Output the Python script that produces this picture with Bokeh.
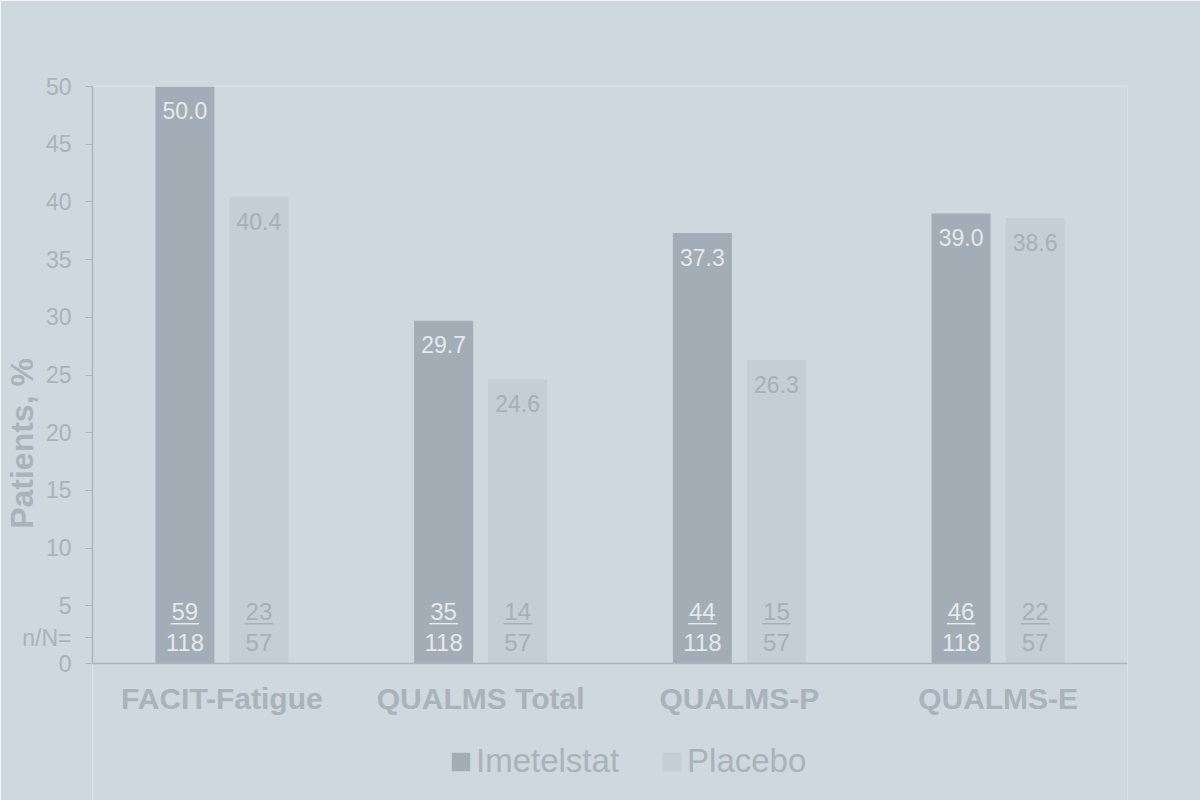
from bokeh.plotting import figure
from bokeh.models import (ColumnDataSource, Range1d, FixedTicker, Legend, LegendItem, Span)
from bokeh.core.properties import value
from bokeh.embed import file_html
from bokeh.resources import INLINE

# ---- data ----
categories = ["FACIT-Fatigue", "QUALMS Total", "QUALMS-P", "QUALMS-E"]
imetelstat_pct = [50.0, 29.7, 37.3, 39.0]
placebo_pct = [40.4, 24.6, 26.3, 38.6]
imetelstat_n = [59, 35, 44, 46]
imetelstat_N = [118, 118, 118, 118]
placebo_n = [23, 14, 15, 22]
placebo_N = [57, 57, 57, 57]
y_ticks = [0, 5, 10, 15, 20, 25, 30, 35, 40, 45, 50]
nN_label = "n/N="
series_names = ["Imetelstat", "Placebo"]
y_title = "Patients, %"

# ---- style ----
BG = "#cdd8df"
DARK = "#a2adb5"
LIGHT = "#c3ced5"
AXIS = "#aab5bc"
TXT = "#a8b3ba"
INNER_LIGHT = "#e3e9ec"
INNER_GRAY = "#a5b0b8"
FONT = "Liberation Sans"

OFF = 0.143
BW = 0.228
UL_HALF = 0.055
UL_Y = 3.45
NN_Y = 2.25
Y_MIN = -11.87   # frame continues below the axis to hold labels and legend

idx = list(range(len(categories)))
x_imet = [i - OFF for i in idx]
x_plac = [i + OFF for i in idx]


def make_src(xs, pct, n, N):
    return ColumnDataSource(dict(
        x=xs, top=pct, lab=[f"{v:.1f}" for v in pct],
        n=[str(v) for v in n], N=[str(v) for v in N],
        ul0=[x - UL_HALF for x in xs], ul1=[x + UL_HALF for x in xs],
        zero=[0] * len(xs), uly=[UL_Y] * len(xs)))


src_i = make_src(x_imet, imetelstat_pct, imetelstat_n, imetelstat_N)
src_p = make_src(x_plac, placebo_pct, placebo_n, placebo_N)
src_c = ColumnDataSource(dict(x=idx, y=[0] * len(idx), text=categories))

p = figure(width=1200, height=800, output_backend="svg", toolbar_location=None,
           x_range=Range1d(-0.5, 3.5), y_range=Range1d(Y_MIN, 50),
           x_axis_location=None,
           min_border_left=92, min_border_right=73, min_border_top=86, min_border_bottom=0)
p.background_fill_color = BG
p.border_fill_color = BG
p.outline_line_color = None
p.grid.grid_line_color = None

r_i = p.vbar(x="x", top="top", width=BW, source=src_i, fill_color=DARK, line_color=None)
r_p = p.vbar(x="x", top="top", width=BW, source=src_p, fill_color=LIGHT, line_color=None)

for src, col in ((src_i, INNER_LIGHT), (src_p, INNER_GRAY)):
    p.text(x="x", y="top", text="lab", source=src, text_align="center", text_baseline="middle",
           y_offset=24, text_font=value(FONT), text_font_size="23px", text_color=col)
    p.text(x="x", y="zero", text="n", source=src, text_align="center", text_baseline="middle",
           y_offset=-52, text_font=value(FONT), text_font_size="24px", text_color=col)
    p.text(x="x", y="zero", text="N", source=src, text_align="center", text_baseline="middle",
           y_offset=-21, text_font=value(FONT), text_font_size="24px", text_color=col)
    p.segment(x0="ul0", y0="uly", x1="ul1", y1="uly", source=src, line_color=col, line_width=1.5)

# x axis line and category labels
p.add_layout(Span(location=0, dimension="width", line_color=AXIS, line_width=1.5))
p.text(x="x", y="y", text="text", source=src_c, text_align="center", text_baseline="middle",
       y_offset=35, text_font=value(FONT), text_font_size="30px", text_font_style="bold",
       text_color=TXT)

# y axis
p.yaxis.bounds = (0, 50)
p.yaxis.ticker = FixedTicker(ticks=sorted(y_ticks + [NN_Y]))
p.yaxis.major_label_overrides = {NN_Y: nN_label}
p.yaxis.minor_tick_line_color = None
p.yaxis.major_tick_out = 7
p.yaxis.major_tick_in = 0
p.yaxis.major_tick_line_color = AXIS
p.yaxis.axis_line_color = AXIS
p.yaxis.axis_line_width = 1.5
p.yaxis.major_label_text_font = FONT
p.yaxis.major_label_text_font_size = "23px"
p.yaxis.major_label_text_color = TXT
p.yaxis.major_label_standoff = 14
p.yaxis.axis_label = y_title
p.yaxis.axis_label_text_font = FONT
p.yaxis.axis_label_text_font_size = "32px"
p.yaxis.axis_label_text_font_style = "bold"
p.yaxis.axis_label_text_color = TXT
p.yaxis.axis_label_standoff = -21

legend = Legend(items=[LegendItem(label=series_names[0], renderers=[r_i]),
                       LegendItem(label=series_names[1], renderers=[r_p])],
                orientation="horizontal", location=(357, 20),
                background_fill_alpha=0, border_line_alpha=0, padding=0, margin=0,
                glyph_width=23, glyph_height=23, label_standoff=4, spacing=41,
                label_text_font=FONT, label_text_font_size="33px", label_text_color=TXT,
                label_height=23)
p.add_layout(legend, "center")

html = file_html(p, INLINE)
html = html.replace("<body>", f'<body style="background:{BG};">', 1)
open("out.html", "w").write(html)
